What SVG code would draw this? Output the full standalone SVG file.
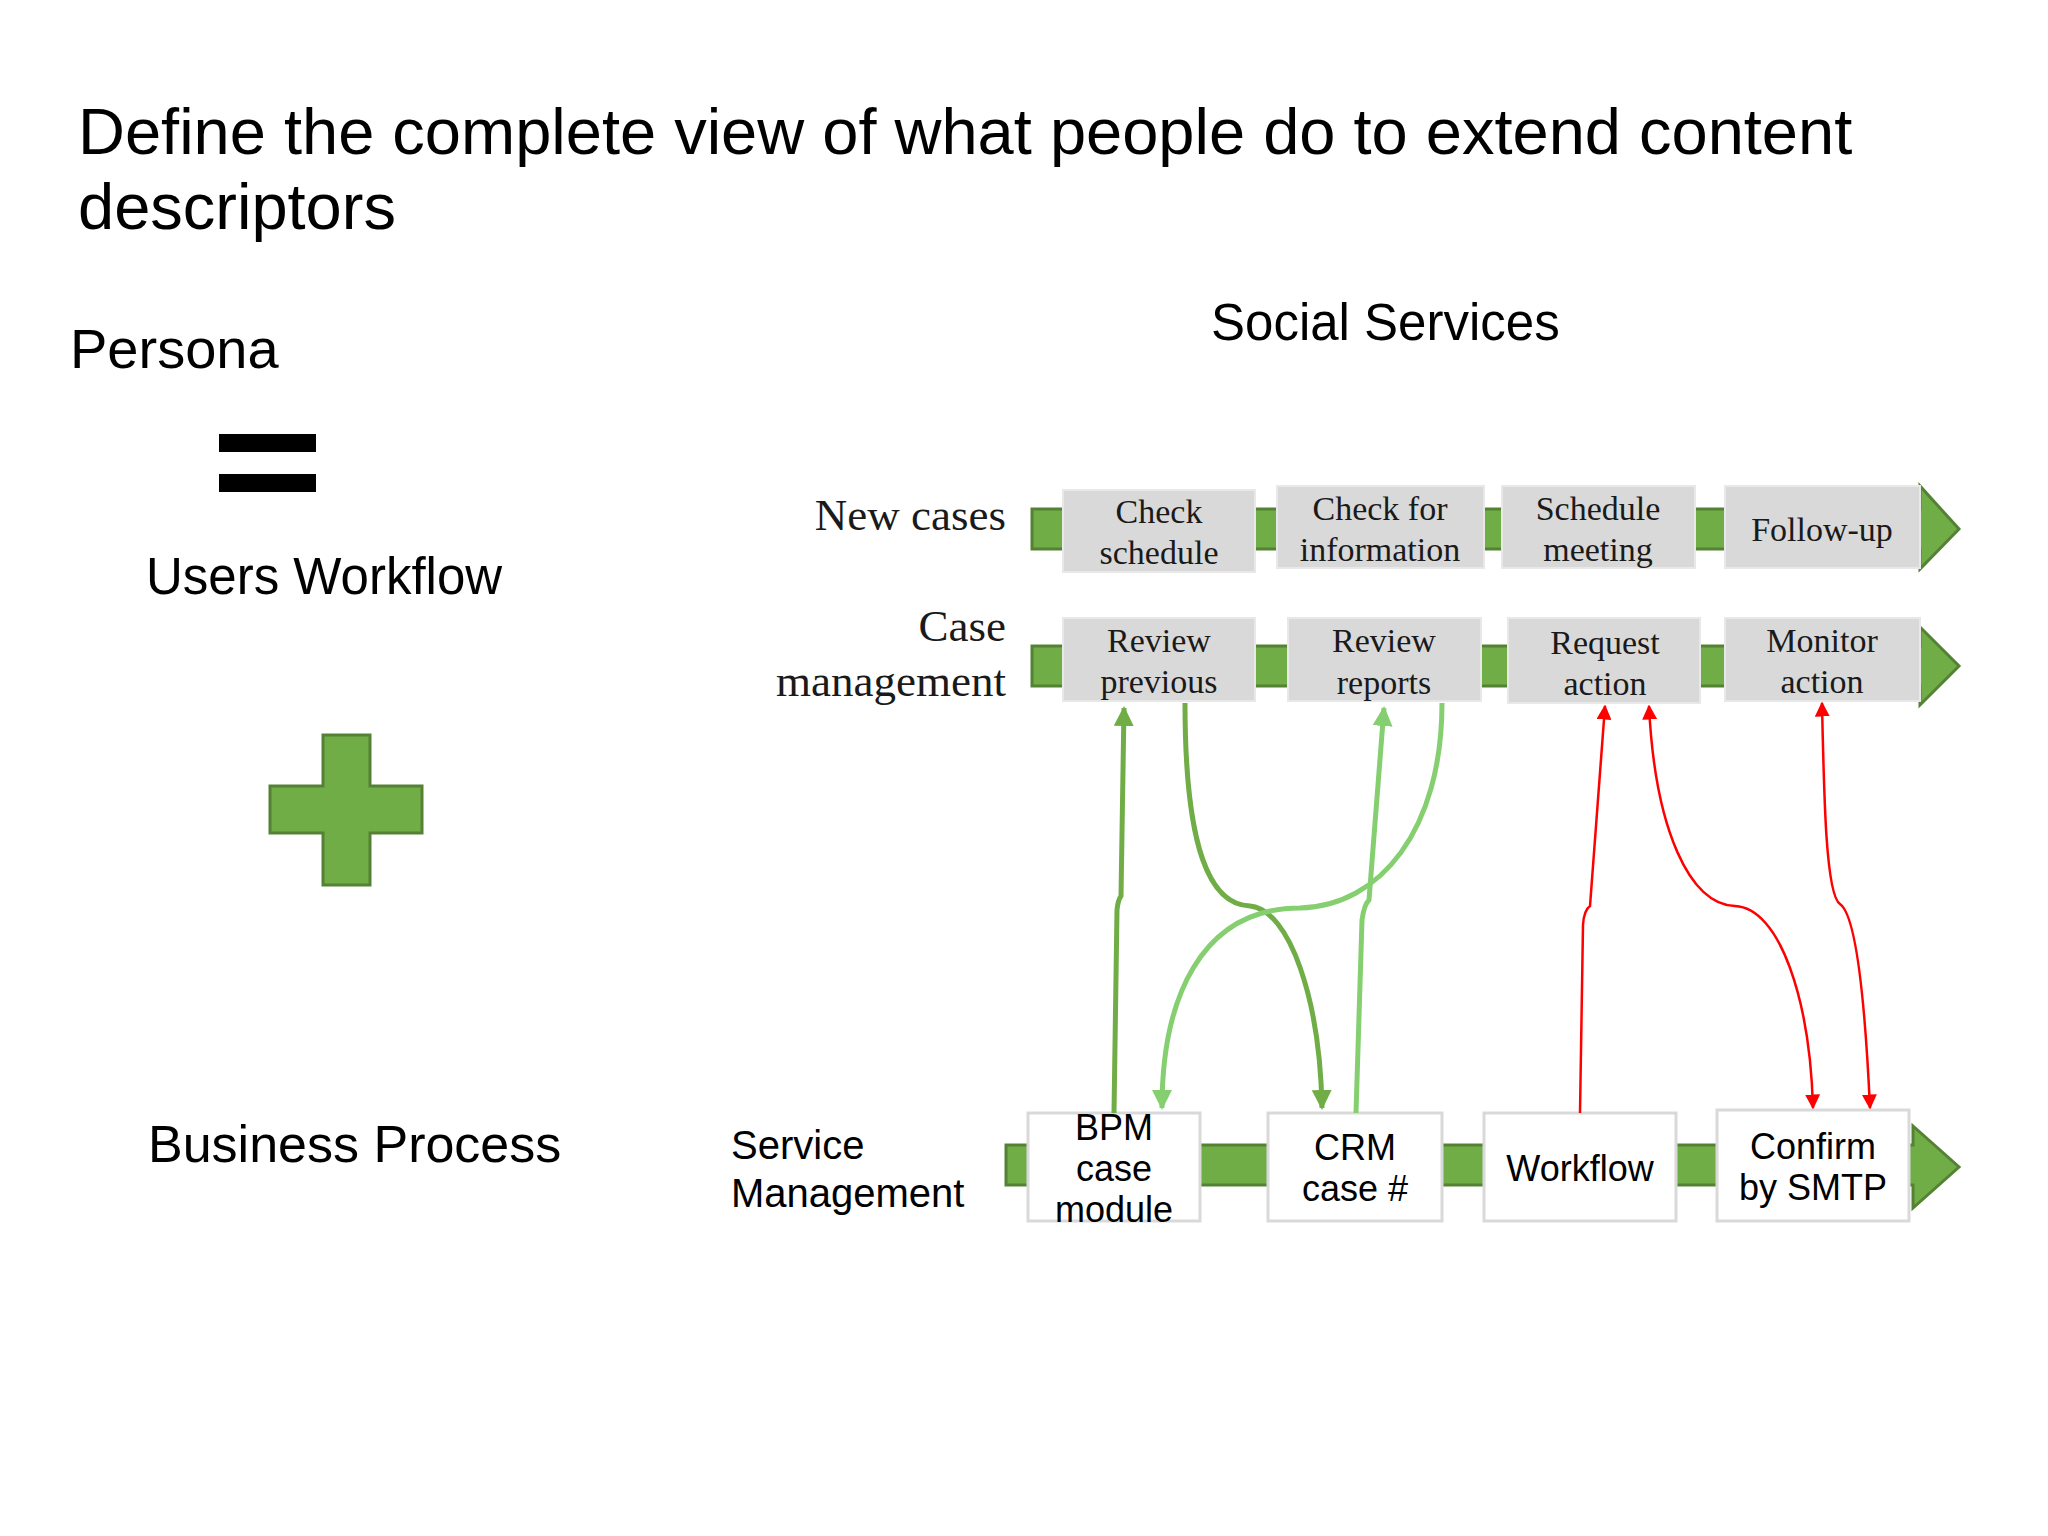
<svg xmlns="http://www.w3.org/2000/svg" width="2048" height="1536" viewBox="0 0 2048 1536">
<style>
.sans{font-family:"Liberation Sans",Arial,sans-serif;fill:#000}
.serif{font-family:"Liberation Serif","Times New Roman",serif;fill:#1a1a1a;font-size:34px;text-anchor:middle}
.bx{fill:#d9d9d9;stroke:#e8e8e8;stroke-width:2}
.wb{fill:#fff;stroke:#d9d9d9;stroke-width:3}
.bar{fill:#70ad47;stroke:#548235;stroke-width:3}
.bt{font-family:"Liberation Sans",Arial,sans-serif;font-size:36px;text-anchor:middle;fill:#000}
.g1{fill:none;stroke:#70ad47;stroke-width:5}
.g2{fill:none;stroke:#85cf71;stroke-width:5}
.r{fill:none;stroke:#ff0000;stroke-width:2.5}
</style>
<defs>
<marker id="ag1" viewBox="0 0 10 10" refX="9" refY="5" markerWidth="4" markerHeight="4" orient="auto-start-reverse"><path d="M0,0L10,5L0,10z" fill="#70ad47"/></marker>
<marker id="ag2" viewBox="0 0 10 10" refX="9" refY="5" markerWidth="4" markerHeight="4" orient="auto-start-reverse"><path d="M0,0L10,5L0,10z" fill="#85cf71"/></marker>
<marker id="ar" viewBox="0 0 10 10" refX="9" refY="5" markerWidth="6" markerHeight="6" orient="auto-start-reverse"><path d="M0,0L10,5L0,10z" fill="#ff0000"/></marker>
</defs>
<rect width="2048" height="1536" fill="#fff"/>
<text class="sans" x="78" y="154" font-size="65">Define the complete view of what people do to extend content</text>
<text class="sans" x="78" y="229" font-size="65">descriptors</text>
<text class="sans" x="70" y="368" font-size="56">Persona</text>
<rect x="219" y="434" width="97" height="18" fill="#000"/>
<rect x="219" y="474" width="97" height="18" fill="#000"/>
<text class="sans" x="146" y="594" font-size="51">Users Workflow</text>
<path d="M323,735H370V786H422V833H370V885H323V833H270V786H323Z" fill="#70ad47" stroke="#548235" stroke-width="3"/>
<text class="sans" x="148" y="1162" font-size="52">Business Process</text>
<text class="sans" x="1211" y="340" font-size="51">Social Services</text>
<text x="1006" y="530" class="serif" style="text-anchor:end;font-size:45px">New cases</text>
<text x="1006" y="641" class="serif" style="text-anchor:end;font-size:45px">Case</text>
<text x="1006" y="696" class="serif" style="text-anchor:end;font-size:45px">management</text>
<text class="sans" x="731" y="1159" font-size="40">Service</text>
<text class="sans" x="731" y="1207" font-size="40">Management</text>

<g id="row1">
<path class="bar" d="M1032,509H1920V486L1959,529L1920,569V549H1032Z"/>
<g id="n-check-schedule"><rect class="bx" x="1063" y="490" width="192" height="82"/><text class="serif" x="1159" y="523">Check</text><text class="serif" x="1159" y="564">schedule</text></g>
<g id="n-check-info"><rect class="bx" x="1277" y="486" width="207" height="82"/><text class="serif" x="1380" y="520">Check for</text><text class="serif" x="1380" y="561">information</text></g>
<g id="n-schedule-meeting"><rect class="bx" x="1502" y="486" width="193" height="82"/><text class="serif" x="1598" y="520">Schedule</text><text class="serif" x="1598" y="561">meeting</text></g>
<g id="n-follow-up"><rect class="bx" x="1725" y="486" width="195" height="82"/><text class="serif" x="1822" y="541">Follow-up</text></g>
</g>
<g id="row2">
<path class="bar" d="M1032,646H1920V627L1959,666L1920,705V686H1032Z"/>
<g id="n-review-previous"><rect class="bx" x="1063" y="618" width="192" height="83"/><text class="serif" x="1159" y="652">Review</text><text class="serif" x="1159" y="693">previous</text></g>
<g id="n-review-reports"><rect class="bx" x="1288" y="618" width="193" height="83"/><text class="serif" x="1384" y="652">Review</text><text class="serif" x="1384" y="694">reports</text></g>
<g id="n-request-action"><rect class="bx" x="1508" y="618" width="192" height="85"/><text class="serif" x="1605" y="654">Request</text><text class="serif" x="1605" y="695">action</text></g>
<g id="n-monitor-action"><rect class="bx" x="1725" y="618" width="195" height="83"/><text class="serif" x="1822" y="652">Monitor</text><text class="serif" x="1822" y="693">action</text></g>
</g>
<g id="row3">
<path class="bar" d="M1006,1145H1913V1126L1959,1167L1913,1208V1185H1006Z"/>
<g id="n-bpm"><rect class="wb" x="1028" y="1113" width="172" height="108"/><text class="bt" x="1114" y="1140">BPM</text><text class="bt" x="1114" y="1181">case</text><text class="bt" x="1114" y="1222">module</text></g>
<g id="n-crm"><rect class="wb" x="1268" y="1113" width="174" height="108"/><text class="bt" x="1355" y="1160">CRM</text><text class="bt" x="1355" y="1201">case #</text></g>
<g id="n-workflow"><rect class="wb" x="1484" y="1113" width="192" height="108"/><text class="bt" x="1580" y="1181">Workflow</text></g>
<g id="n-confirm"><rect class="wb" x="1717" y="1110" width="192" height="111"/><text class="bt" x="1813" y="1159">Confirm</text><text class="bt" x="1813" y="1200">by SMTP</text></g>
</g>
<g id="connectors">
<path class="g1" d="M1114,1113L1117,910Q1118,900 1121,896L1124,708" marker-end="url(#ag1)"/>
<path class="g1" d="M1185,703C1185,850 1210,905 1250,906C1290,910 1320,1000 1322,1108" marker-end="url(#ag1)"/>
<path class="g2" d="M1356,1113L1362,920Q1364,905 1369,900L1384,708" marker-end="url(#ag2)"/>
<path class="g2" d="M1442,703C1442,830 1380,906 1300,908C1200,908 1162,1000 1162,1108" marker-end="url(#ag2)"/>
<path class="r" d="M1580,1113L1583,925Q1584,910 1590,906L1605,706" marker-end="url(#ar)"/>
<path class="r" d="M1649,706C1655,830 1690,905 1735,906C1780,908 1810,1000 1813,1108" marker-start="url(#ar)" marker-end="url(#ar)"/>
<path class="r" d="M1822,703C1824,800 1826,895 1840,904C1856,915 1865,1000 1870,1108" marker-start="url(#ar)" marker-end="url(#ar)"/>
</g>
</svg>
